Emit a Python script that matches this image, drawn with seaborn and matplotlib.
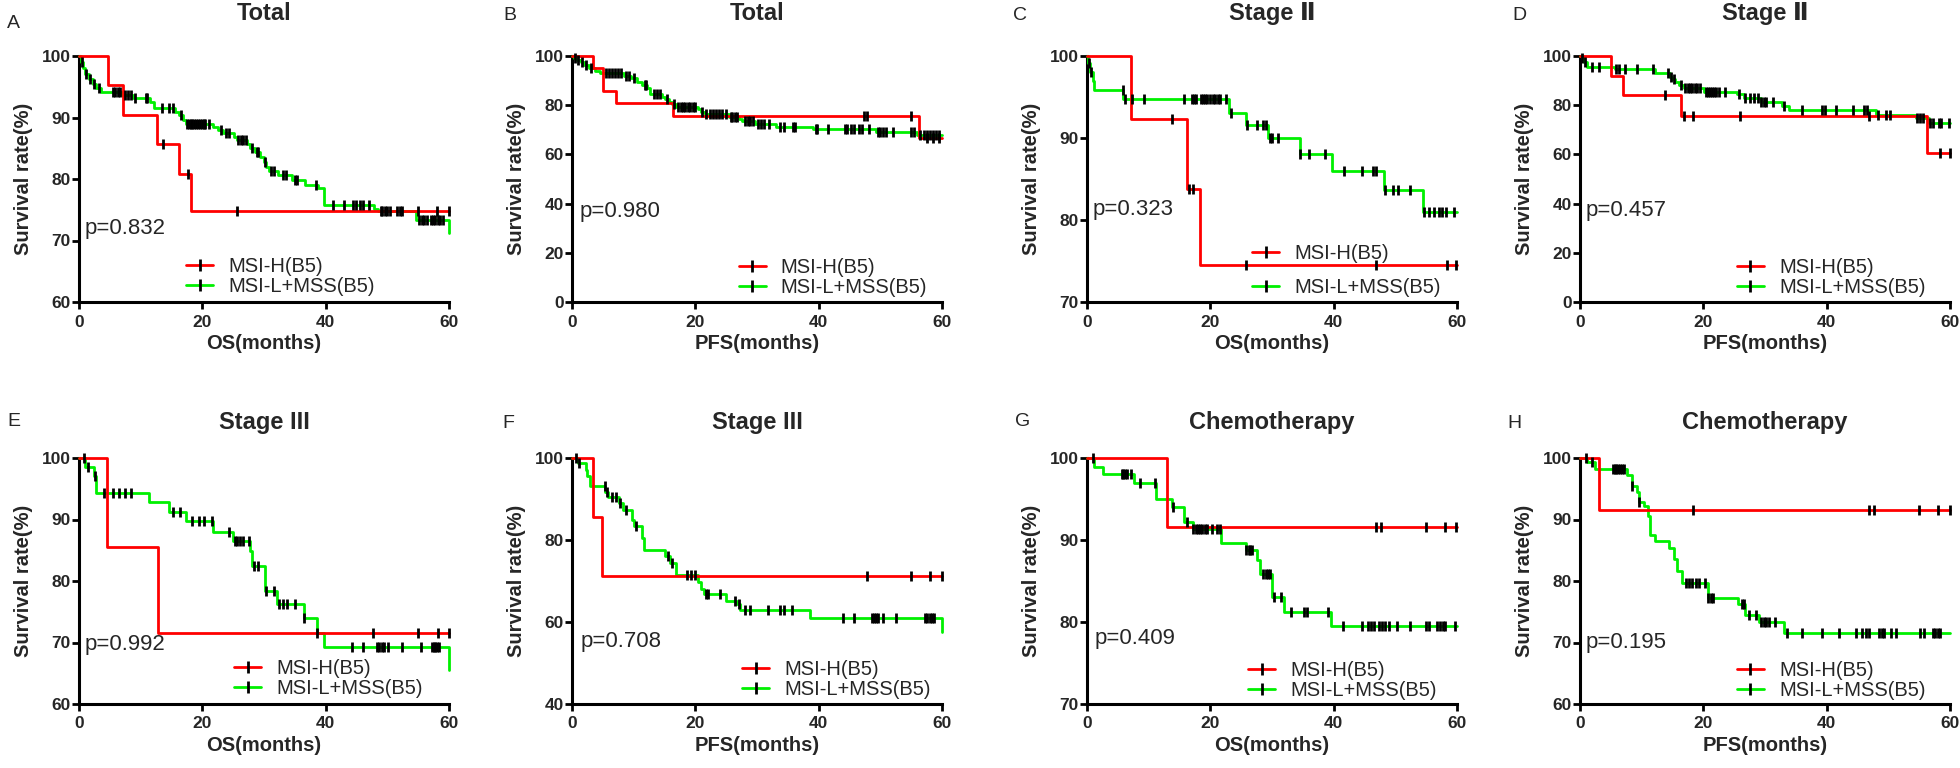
import numpy as np
import matplotlib
matplotlib.use('Agg')
import matplotlib.pyplot as plt
from matplotlib.lines import Line2D
import seaborn as sns

RED = '#ff0000'
GREEN = '#00f000'

# ---- data: step times (months), survival (%), censor times ----
# A  Total OS
a_red_t = [0, 4.7, 7.1, 12.6, 16.2, 18.2, 60]
a_red_s = [100, 95.3, 90.4, 85.7, 80.8, 74.8, 74.8]
a_red_c = [13.6, 17.6, 25.7, 55.0, 58.0, 60.0]
a_grn_t = [0, 0.3, 0.6, 1.0, 1.6, 2.2, 2.8, 3.6, 6.9, 8.7, 11.5, 12.2, 15.5, 16.2, 16.8, 17.3,
           21.8, 22.6, 23.4, 25.2, 25.6, 27.2, 27.8, 28.5, 29.3, 30.0, 30.4, 30.8, 32.2, 34.5,
           36.6, 38.8, 39.7, 47.9, 48.5, 54.6, 60]
a_grn_s = [100, 99.0, 98.0, 97.0, 96.2, 95.4, 94.8, 94.2, 93.6, 93.1, 92.6, 91.5, 90.9, 90.4, 89.6, 89.0,
           88.5, 88.0, 87.4, 86.9, 86.3, 85.7, 85.0, 84.4, 83.6, 82.8, 82.0, 81.3, 80.6, 79.8,
           79.0, 78.5, 75.7, 75.2, 74.8, 73.3, 71.3]
a_grn_c = [0.5, 1.2, 1.8, 2.5, 3.3, 5.5, 5.9, 6.3, 6.6, 7.5, 8.0, 8.4, 9.0, 10.8, 11.0, 13.5, 14.6,
           15.2, 16.5, 17.5, 17.8, 18.1, 18.4, 18.7, 19.0, 19.3, 19.6, 19.9, 20.2, 20.5, 21.0, 23.0,
           23.8, 24.3, 25.8, 26.2, 26.6, 27.0, 28.0, 28.8, 29.0, 30.2, 31.2, 31.6, 33.0, 33.5, 35.0,
           35.3, 38.5, 41.2, 43.0, 44.5, 44.9, 45.6, 46.0, 47.0, 48.9, 49.2, 49.6, 50.0, 50.4, 51.5,
           52.0, 52.4, 55.2, 55.6, 56.0, 56.4, 57.0, 57.4, 57.8, 58.2, 58.6, 59.0]

# B  Total PFS
b_red_t = [0, 3.4, 5.1, 7.2, 16.4, 56.3, 60]
b_red_s = [100, 95.3, 85.9, 80.7, 75.6, 66.5, 66.5]
b_red_c = [47.4, 47.9, 55.0, 57.5, 58.5, 59.5]
b_grn_t = [0, 0.3, 0.8, 1.4, 2.0, 2.7, 3.8, 4.6, 8.4, 9.5, 10.5, 11.4, 12.2, 12.7, 14.6, 15.1,
           15.7, 16.2, 16.8, 20.4, 20.9, 21.5, 25.4, 27.0, 27.6, 29.7, 33.0, 39.0, 49.3, 56.0, 60]
b_grn_s = [100, 99.3, 98.5, 97.5, 96.4, 95.2, 94.0, 93.0, 91.9, 90.9, 89.5, 88.2, 86.8, 84.4, 83.4, 82.4,
           81.4, 80.5, 79.4, 78.3, 77.3, 76.4, 75.3, 74.2, 73.4, 72.3, 71.2, 70.3, 69.2, 67.8, 67.8]
b_grn_c = [0.5, 1.0, 1.7, 2.3, 3.0, 5.5, 6.0, 6.5, 7.0, 7.5, 7.9, 8.8, 9.2, 10.0, 11.8, 12.0, 13.3,
           13.8, 14.2, 15.4, 16.5, 17.2, 17.6, 18.0, 18.4, 18.8, 19.2, 19.6, 20.0, 21.0, 21.8, 22.3,
           22.8, 23.3, 23.8, 24.4, 25.0, 25.8, 26.0, 26.4, 26.8, 28.0, 28.5, 28.9, 29.3, 30.1, 30.6,
           31.1, 32.0, 33.8, 34.3, 35.8, 36.1, 39.5, 39.8, 41.5, 44.2, 44.6, 45.3, 45.8, 46.5, 47.0,
           48.2, 49.6, 50.0, 50.5, 50.9, 52.0, 55.0, 55.4, 56.5, 57.0, 57.5, 58.0, 58.5, 59.0, 59.5]

# C  Stage II OS
c_red_t = [0, 7.2, 16.2, 18.3, 60]
c_red_s = [100, 92.3, 83.8, 74.5, 74.5]
c_red_c = [13.8, 16.5, 17.2, 25.8, 46.8, 58.3, 59.9]
c_grn_t = [0, 0.2, 0.5, 0.9, 1.1, 5.9, 23.0, 25.8, 29.4, 34.5, 39.7, 48.2, 54.5, 60]
c_grn_s = [100, 99.2, 98.0, 96.9, 95.8, 94.7, 93.1, 91.6, 90.0, 88.0, 86.0, 83.6, 81.0, 81.0]
c_grn_c = [0.4, 0.7, 5.8, 6.2, 7.3, 9.2, 15.8, 17.0, 17.3, 17.6, 18.5, 18.8, 19.1, 19.5, 20.0,
           20.4, 20.8, 21.2, 21.6, 22.6, 23.3, 25.9, 27.5, 28.5, 29.1, 29.6, 30.0, 31.0, 34.6, 36.0,
           38.6, 41.6, 44.6, 46.3, 46.9, 48.3, 49.6, 50.5, 52.3, 54.6, 55.5, 56.2, 57.0, 57.6, 58.2, 59.5]

# D  Stage II PFS
d_red_t = [0, 5.1, 6.9, 16.3, 56.2, 60]
d_red_s = [100, 91.9, 84.1, 75.6, 60.6, 60.6]
d_red_c = [13.8, 16.8, 18.3, 25.9, 46.8, 58.3, 60.0]
d_grn_t = [0, 0.3, 0.7, 1.1, 5.6, 12.2, 14.6, 14.9, 15.4, 16.0, 16.8, 20.1, 25.5, 26.6, 29.3,
           32.8, 33.9, 48.0, 54.5, 56.6, 60]
d_grn_s = [100, 99.0, 97.5, 95.7, 94.7, 92.9, 91.6, 90.5, 89.3, 88.2, 86.8, 85.5, 84.4, 82.8, 81.4,
           79.6, 78.0, 76.0, 74.9, 72.9, 72.9]
d_grn_c = [0.4, 0.8, 2.0, 3.0, 5.8, 6.3, 7.3, 9.3, 11.8, 14.3, 14.8, 15.3, 16.3, 17.0, 17.5, 17.8,
           18.2, 18.6, 19.0, 19.5, 20.5, 20.8, 21.1, 21.4, 21.7, 22.0, 22.5, 23.5, 25.8, 26.8, 27.5,
           28.2, 28.8, 29.4, 29.8, 30.2, 31.3, 33.0, 36.0, 39.3, 39.7, 41.5, 44.3, 46.0, 46.5, 48.3,
           49.6, 50.3, 54.6, 55.2, 55.7, 56.8, 57.3, 58.2, 58.6, 59.8]

# E  Stage III OS
e_red_t = [0, 4.6, 12.8, 60]
e_red_s = [100, 85.6, 71.5, 71.5]
e_red_c = [47.7, 55.0, 58.2, 60.0]
e_grn_t = [0, 1.0, 2.5, 2.8, 11.4, 14.6, 17.3, 21.8, 25.0, 27.8, 28.0, 30.2, 32.1, 36.5, 38.6,
           39.7, 60]
e_grn_s = [100, 98.5, 97.0, 94.3, 92.8, 91.2, 89.8, 88.0, 86.5, 84.9, 82.5, 78.3, 76.3, 74.0, 71.6,
           69.2, 65.6]
e_grn_c = [0.8, 1.5, 2.6, 4.0, 5.5, 6.5, 7.5, 8.5, 15.2, 16.3, 18.3, 19.5, 20.3, 21.5, 24.3, 25.3,
           25.7, 26.1, 26.6, 27.6, 28.3, 29.0, 30.3, 31.6, 32.5, 33.1, 33.7, 35.0, 36.5, 38.6, 44.3,
           46.0, 48.3, 48.7, 49.1, 49.5, 50.1, 52.3, 55.4, 57.2, 57.5, 57.8, 58.1, 58.4]

# F  Stage III PFS
f_red_t = [0, 3.4, 4.9, 60]
f_red_s = [100, 85.5, 71.3, 71.3]
f_red_c = [47.8, 54.9, 58.0, 60.0]
f_grn_t = [0, 1.0, 2.2, 2.5, 2.9, 5.4, 5.9, 7.6, 8.3, 9.7, 10.0, 11.4, 11.7, 15.1, 15.9, 16.8,
           20.5, 20.9, 21.4, 24.9, 26.8, 27.3, 38.6, 60]
f_grn_s = [100, 98.7, 97.0, 95.5, 93.2, 91.7, 90.4, 89.0, 87.4, 85.0, 83.3, 80.5, 77.5, 76.0, 74.3, 71.5,
           69.8, 68.0, 66.8, 65.1, 64.5, 63.0, 61.0, 57.5]
f_grn_c = [0.6, 1.2, 5.3, 5.7, 6.5, 7.2, 7.8, 8.8, 10.4, 15.5, 16.2, 18.6, 19.3, 20.0, 21.8, 22.0,
           24.0, 26.5, 27.1, 28.0, 28.8, 31.8, 33.8, 34.3, 35.6, 44.0, 45.7, 48.7, 49.0, 49.3, 49.7,
           50.5, 52.6, 57.2, 57.6, 58.0, 58.3, 58.7]

# G  Chemotherapy OS
g_red_t = [0, 12.9, 60]
g_red_s = [100, 91.6, 91.6]
g_red_c = [46.8, 47.7, 55.0, 58.0, 59.9]
g_grn_t = [0, 1.2, 2.6, 7.7, 11.2, 13.8, 15.7, 17.2, 21.8, 25.8, 27.5, 28.0, 30.0, 31.9, 39.5, 60]
g_grn_s = [100, 98.9, 98.0, 97.0, 95.0, 94.0, 92.2, 91.3, 89.6, 88.8, 87.6, 85.8, 83.0, 81.2, 79.5, 79.5]
g_grn_c = [1.0, 5.6, 5.9, 6.2, 6.5, 7.2, 8.6, 11.0, 13.9, 16.2, 17.2, 17.6, 18.0, 18.3, 18.7, 19.1,
           19.5, 20.2, 21.0, 21.5, 25.8, 26.2, 26.5, 26.8, 28.5, 29.0, 29.3, 29.6, 30.3, 31.4, 33.0,
           35.2, 35.7, 39.0, 41.5, 44.6, 45.5, 46.1, 46.6, 47.3, 47.8, 48.3, 49.0, 50.2, 52.3, 55.0,
           55.4, 56.8, 57.3, 57.7, 58.1, 59.6]

# H  Chemotherapy PFS
h_red_t = [0, 3.1, 60]
h_red_s = [100, 91.6, 91.6]
h_red_c = [18.3, 46.8, 47.7, 55.0, 58.0, 60.0]
h_grn_t = [0, 1.2, 2.5, 7.6, 8.4, 9.2, 9.6, 10.3, 11.1, 11.4, 12.2, 14.5, 15.2, 15.7, 16.5, 20.7,
           25.7, 26.8, 29.0, 33.1, 60]
h_grn_s = [100, 99.4, 98.2, 97.3, 95.5, 94.5, 92.8, 92.2, 90.5, 87.5, 86.5, 85.3, 83.5, 81.6, 79.6, 77.3,
           76.2, 74.5, 73.4, 71.5, 71.5]
h_grn_c = [1.0, 2.0, 5.3, 5.6, 5.9, 6.2, 6.5, 6.8, 7.2, 8.5, 9.6, 17.2, 17.6, 18.1, 18.8, 19.3,
           20.2, 20.8, 21.3, 21.6, 26.3, 26.6, 27.4, 28.5, 29.4, 29.8, 30.2, 30.6, 31.6, 33.5, 36.0,
           39.3, 42.0, 44.8, 45.8, 46.4, 46.9, 48.5, 48.9, 49.3, 50.4, 51.3, 55.2, 55.8, 57.2, 57.6,
           58.0, 58.4]

letters = ['A', 'B', 'C', 'D', 'E', 'F', 'G', 'H']
titles = ['Total', 'Total', 'Stage Ⅱ', 'Stage Ⅱ', 'Stage III', 'Stage III', 'Chemotherapy', 'Chemotherapy']
xlabels = ['OS(months)', 'PFS(months)'] * 4
p_values = ['p=0.832', 'p=0.980', 'p=0.323', 'p=0.457', 'p=0.992', 'p=0.708', 'p=0.409', 'p=0.195']
y_lows = [60, 0, 70, 0, 60, 40, 70, 60]
y_steps = [10, 20, 10, 20, 10, 20, 10, 10]
labels = ['MSI-H(B5)', 'MSI-L+MSS(B5)']

curves = [
    (a_red_t, a_red_s, a_red_c, a_grn_t, a_grn_s, a_grn_c),
    (b_red_t, b_red_s, b_red_c, b_grn_t, b_grn_s, b_grn_c),
    (c_red_t, c_red_s, c_red_c, c_grn_t, c_grn_s, c_grn_c),
    (d_red_t, d_red_s, d_red_c, d_grn_t, d_grn_s, d_grn_c),
    (e_red_t, e_red_s, e_red_c, e_grn_t, e_grn_s, e_grn_c),
    (f_red_t, f_red_s, f_red_c, f_grn_t, f_grn_s, f_grn_c),
    (g_red_t, g_red_s, g_red_c, g_grn_t, g_grn_s, g_grn_c),
    (h_red_t, h_red_s, h_red_c, h_grn_t, h_grn_s, h_grn_c),
]

# layout (pixels in a 1960x768 figure)
W, H = 1960, 768
lefts = [79, 572, 1087, 1580] * 2
tops = [56] * 4 + [458] * 4
ax_w, ax_h = 370, 246
letter_xy = [(7, 24), (503, 15), (1013, 15), (1512, 15), (7, 422), (502, 423), (1015, 422), (1507, 423)]
p_xy = [(0.016, 0.297), (0.021, 0.366), (0.016, 0.378), (0.014, 0.37),
        (0.016, 0.24), (0.022, 0.256), (0.021, 0.268), (0.014, 0.248)]
leg_xy = [(0.29, 0.105), (0.45, 0.10), (0.446, 0.128), (0.424, 0.10),
          (0.419, 0.105), (0.46, 0.10), (0.435, 0.095), (0.424, 0.095)]
leg_space = [0.05, 0.05, 0.75, 0.05, 0.05, 0.05, 0.05, 0.05]
title_pad = [26] * 4 + [21] * 4

sns.set_style('ticks')
plt.rcParams['font.family'] = ['Liberation Sans', 'DejaVu Sans']

fig = plt.figure(figsize=(W / 100, H / 100), dpi=100)


def level_at(t, s, c):
    idx = np.searchsorted(np.asarray(t), np.asarray(c), side='right') - 1
    return np.asarray(s)[idx]


for i in range(8):
    ax = fig.add_axes([lefts[i] / W, 1 - (tops[i] + ax_h) / H, ax_w / W, ax_h / H])
    rt, rs, rc, gt, gs, gc = curves[i]
    for t, s, c, col in [(gt, gs, gc, GREEN), (rt, rs, rc, RED)]:
        sns.lineplot(x=t, y=s, ax=ax, color=col, lw=2, drawstyle='steps-post',
                     estimator=None, sort=False, clip_on=False, zorder=3)
        sns.scatterplot(x=c, y=level_at(t, s, c), ax=ax, marker='|', s=45, color='black',
                        linewidth=2, clip_on=False, zorder=4)
    ax.set_xlim(0, 60)
    ax.set_ylim(y_lows[i], 100)
    ax.set_xticks([0, 20, 40, 60])
    ax.set_yticks(np.arange(y_lows[i], 101, y_steps[i]))
    sns.despine(ax=ax)
    for sp in ['left', 'bottom']:
        ax.spines[sp].set_linewidth(2.2)
        ax.spines[sp].set_color('black')
    ax.tick_params(direction='out', length=5, width=2, color='black', labelsize=12.5)
    ax.tick_params(axis='x', pad=4)
    ax.tick_params(axis='y', pad=1)
    for lab in ax.get_xticklabels() + ax.get_yticklabels():
        lab.set_fontweight('bold')
    ax.set_xlabel(xlabels[i], fontsize=14.5, fontweight='bold', labelpad=3)
    ax.set_ylabel('Survival rate(%)', fontsize=14.5, fontweight='bold', labelpad=6)
    ax.set_title(titles[i], fontsize=17, fontweight='bold', pad=title_pad[i])
    ax.text(p_xy[i][0], p_xy[i][1], p_values[i], transform=ax.transAxes, fontsize=16,
            ha='left', va='center')
    handles = [Line2D([], [], color=RED, lw=2, marker='|', markersize=8, mec='black', mew=2),
               Line2D([], [], color=GREEN, lw=2, marker='|', markersize=8, mec='black', mew=2)]
    ax.legend(handles, labels, loc='center left', bbox_to_anchor=leg_xy[i], frameon=False,
              fontsize=14.5, handlelength=1.35, handletextpad=0.75, borderpad=0,
              borderaxespad=0, labelspacing=leg_space[i])
    fig.text(letter_xy[i][0] / W, 1 - letter_xy[i][1] / H, letters[i], fontsize=14,
             ha='left', va='center')

fig.savefig('out.png', dpi=100)
